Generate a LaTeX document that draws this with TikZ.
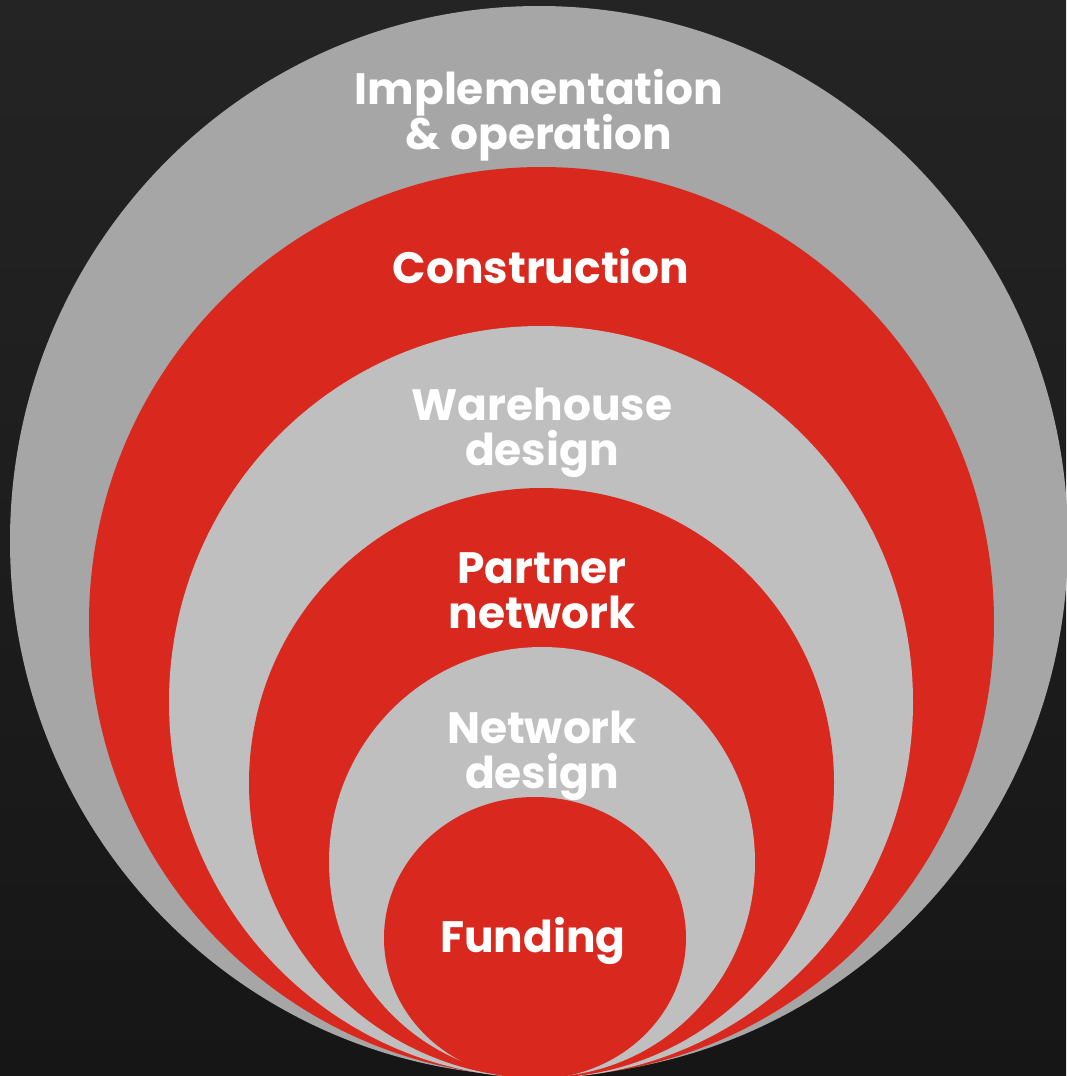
\documentclass[tikz,border=0pt]{standalone}
\usepackage{fontspec}
\setmainfont{Poppins}
\newcommand\lblfont{\bfseries\fontsize{25}{25.6}\selectfont\setlength{\lineskiplimit}{-100pt}}
\begin{document}
\begin{tikzpicture}[x=0.02cm,y=-0.02cm]
\definecolor{bgtop}{HTML}{242424}
\definecolor{bgbot}{HTML}{161616}
\definecolor{outergray}{HTML}{A6A6A6}
\definecolor{lightgray}{HTML}{BFBFBF}
\definecolor{brandred}{HTML}{D9281E}
\tikzset{
  lbl/.style={text=white, align=center, inner sep=0pt, font=\lblfont},
  redring/.style={fill=brandred},
  grayring/.style={fill=lightgray}
}
\useasboundingbox (0,0) rectangle (1066,1076);
\shade[top color=bgtop, bottom color=bgbot] (0,0) rectangle (1066,1076);
% nested ellipses, all touching at the bottom
\fill[outergray] (539,541) ellipse [x radius=529, y radius=535];
\fill[redring] (541.5,622) ellipse [x radius=452.5, y radius=455];
\fill[grayring] (541,702) ellipse [x radius=372, y radius=376];
\fill[redring] (541.5,783) ellipse [x radius=292.5, y radius=295];
\fill[grayring] (542,862) ellipse [x radius=213, y radius=215];
\fill[redring] (535,938) ellipse [x radius=151, y radius=141];
% labels
\node[lbl] (impl) at (539,115) {Implementation\\\& operation};
\node[lbl] (constr) at (541,266) {Construction};
\node[lbl] (ware) at (542,433) {Warehouse\\design};
\node[lbl] (partner) at (542,591) {Partner\\network};
\node[lbl] (netdes) at (542,756) {Network\\design};
\node[lbl] (fund) at (533,941) {Funding};
\end{tikzpicture}
\end{document}
